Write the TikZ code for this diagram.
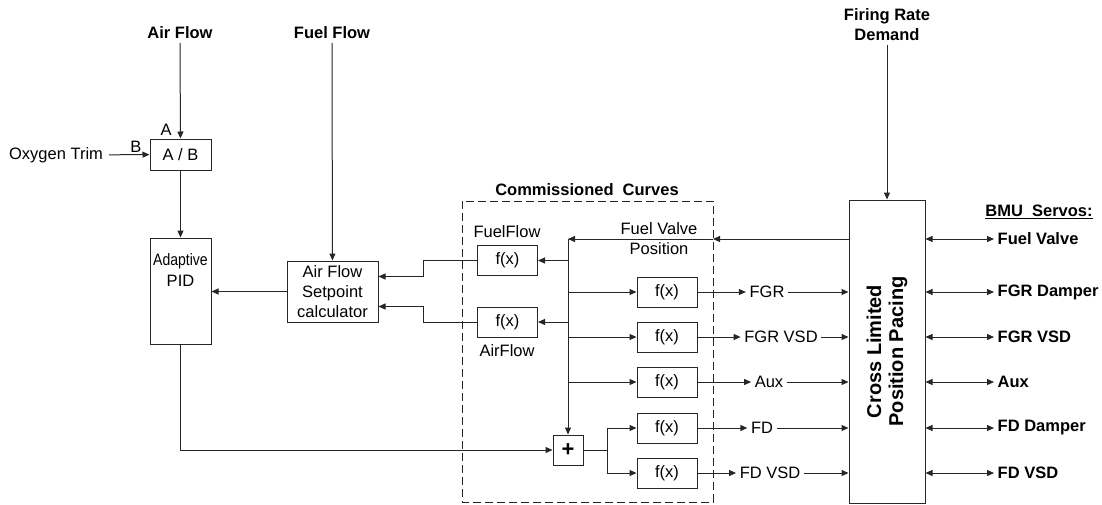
\documentclass[tikz,border=0pt]{standalone}
\usepackage{fontspec}
\setmainfont{Liberation Sans}
\usetikzlibrary{arrows.meta,positioning}
\tikzset{
  bmu text/.style={font=\fontsize{16.5}{20}\selectfont,inner sep=3.5pt,align=center},
  bmu bold/.style={bmu text,font=\fontsize{16.5}{20}\selectfont\bfseries},
  bmu block/.style={bmu text,draw=black!85,line width=1pt,inner sep=0pt},
  bmu fx/.style={bmu block,minimum width=60,minimum height=30},
  bmu wire/.style={black!85,line width=1pt},
  bmu arrow/.style={bmu wire,-{Triangle[length=7pt,width=6pt]}},
  bmu both/.style={bmu wire,{Triangle[length=7pt,width=6pt]}-{Triangle[length=7pt,width=6pt]}}
}
\begin{document}
\begin{tikzpicture}[x=1pt,y=-1pt]
  \useasboundingbox (0,0) rectangle (1102,504);
  % inputs
  \node[bmu bold] (airlbl) at (180,33) {Air Flow};
  \node[bmu bold] (fuellbl) at (332,33) {Fuel Flow};
  \node[bmu bold] (frdlbl) at (887,25) {Firing Rate\\Demand};
  \node[bmu text,inner sep=6pt] (o2lbl) at (56,155) {Oxygen Trim};
  % left blocks
  \node[bmu block,minimum width=61,minimum height=31] (ab) at (180.5,154.5) {A / B};
  \node[bmu text] at (166,130) {A};
  \node[bmu text] at (136,147) {B};
  \node[bmu block,minimum width=61,minimum height=106] (pid) at (180.5,291) {};
  \node[bmu text,below=24pt of pid.north,anchor=center] (pidtxt)
    {\scalebox{0.85}[1]{Adaptive}};
  \node[bmu text,below=19pt of pidtxt.center,anchor=center] (pidtxt2) {PID};
  \node[bmu block,minimum width=91,minimum height=61] (afsp) at (332.5,291.5)
    {Air Flow\\Setpoint\\calculator};
  % commissioned curves
  \draw[bmu wire,dash pattern=on 8pt off 4pt] (462,201) rectangle (713,502);
  \node[bmu bold] (cclbl) at (587,190) {Commissioned\ \ Curves};
  \node[bmu fx] (fuelfx) at (507.5,260.5) {f(x)};
  \node[bmu fx] (airfx) at (507.5,322) {f(x)};
  \node[bmu text] at (507,232) {FuelFlow};
  \node[bmu text] at (507,351) {AirFlow};
  \node[bmu fx] (fgrfx) at (667,292) {f(x)};
  \node[bmu fx] (fgrvfx) at (667,337) {f(x)};
  \node[bmu fx] (auxfx) at (667,382) {f(x)};
  \node[bmu fx] (fdfx) at (667,428) {f(x)};
  \node[bmu fx] (fdvfx) at (667,473) {f(x)};
  \node[bmu block,minimum size=30,font=\fontsize{22}{22}\selectfont\bfseries] (plus) at (568,450) {+};
  \node[bmu text] (fvplbl) at (659,239) {Fuel Valve\\Position};
  \coordinate (bus) at (568,239);
  \coordinate (ccedge) at (713,239);
  \coordinate (split) at (607,450);
  % pacing block
  \node[bmu block,minimum width=76,minimum height=303] (clpp) at (887,351.5) {};
  \node[bmu bold,font=\fontsize{20}{22}\selectfont\bfseries,rotate=90] at (clpp) {Cross Limited\\Position Pacing};
  % signals into pacing
  \node[bmu text] (fgrlbl) at (767,292) {FGR};
  \node[bmu text] (fgrvlbl) at (781,337) {FGR VSD};
  \node[bmu text] (auxlbl) at (769,382) {Aux};
  \node[bmu text] (fdlbl) at (762,428) {FD};
  \node[bmu text] (fdvlbl) at (770,473) {FD VSD};
  % servos
  \node[bmu bold] (bmulbl) at (1039,212) {\underline{BMU\ \ Servos:}};
  \node[bmu bold,anchor=west] (svfv) at (994,239) {Fuel Valve};
  \node[bmu bold,anchor=west] (svfgr) at (994,292) {FGR Damper};
  \node[bmu bold,anchor=west] (svfgrv) at (994,337) {FGR VSD};
  \node[bmu bold,anchor=west] (svaux) at (994,382) {Aux};
  \node[bmu bold,anchor=west] (svfd) at (994,428) {FD Damper};
  \node[bmu bold,anchor=west] (svfdv) at (994,473) {FD VSD};

  \draw[bmu arrow] (airlbl) -- (ab);
  \draw[bmu arrow] (o2lbl) -- (ab);
  \draw[bmu arrow] (ab) -- (pid);
  \draw[bmu arrow] (fuellbl) -- (afsp);
  \draw[bmu arrow] (afsp.west) -- (afsp.west -| pid.east);
  \draw[bmu arrow] (fuelfx.west) -- ++(-53.5,0) |- ([yshift=15pt]afsp.east);
  \draw[bmu arrow] (airfx.west) -- ++(-53.5,0) |- ([yshift=-15pt]afsp.east);
  \draw[bmu arrow] (frdlbl) -- (clpp);
  \draw[bmu arrow] (clpp.west |- ccedge) -- (ccedge);
  \draw[bmu arrow] (ccedge) -- (bus);
  \draw[bmu arrow] (bus) -- (plus);
  \draw[bmu arrow] (bus |- fuelfx) -- (fuelfx);
  \draw[bmu arrow] (bus |- airfx) -- (airfx);
  \draw[bmu arrow] (bus |- fgrfx) -- (fgrfx);
  \draw[bmu arrow] (bus |- fgrvfx) -- (fgrvfx);
  \draw[bmu arrow] (bus |- auxfx) -- (auxfx);
  \draw[bmu arrow] (pid) |- (plus);
  \draw[bmu wire] (plus) -- (split);
  \draw[bmu arrow] (split) |- (fdfx);
  \draw[bmu arrow] (split) |- (fdvfx);
  \foreach \fx/\lb in {fgrfx/fgrlbl,fgrvfx/fgrvlbl,auxfx/auxlbl,fdfx/fdlbl,fdvfx/fdvlbl}{
    \draw[bmu arrow] (\fx) -- (\lb);
    \draw[bmu arrow] (\lb) -- (clpp.west |- \lb);
  }
  \foreach \sv in {svfv,svfgr,svfgrv,svaux,svfd,svfdv}
    \draw[bmu both] (clpp.east |- \sv) -- (\sv.west);
\end{tikzpicture}
\end{document}
